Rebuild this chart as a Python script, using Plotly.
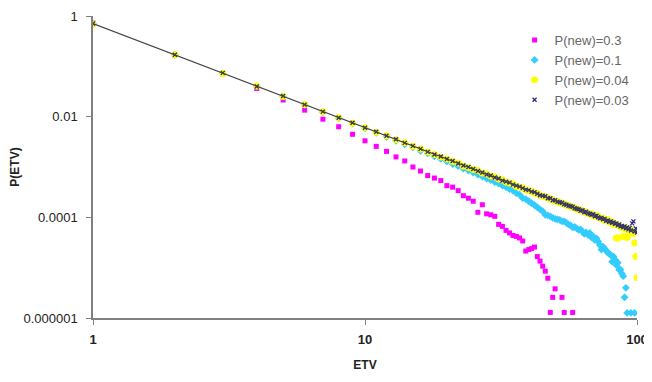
import plotly.graph_objects as go

ETV = list(range(1, 101))

# log10 P(ETV) (None = no point shown)
LOGP_03 = [
    -0.14, -0.78, -1.15, -1.44, -1.67, -1.87, -2.05, -2.20, -2.35, -2.48,
    -2.59, -2.69, -2.80, -2.88, -3.00, -3.08, -3.17, -3.22, -3.27, -3.37,
    -3.40, -3.47, -3.57, -3.62, -3.68, -3.90, -3.75, -3.93, -3.95, -3.98,
    -4.14, -4.18, -4.26, -4.31, -4.36, -4.38, -4.41, -4.47, -4.67, -4.64,
    -4.62, -4.59, -4.78, -4.87, -4.97, -5.07, -5.21, -5.89, -5.59, -5.42,
    None, None, -5.59, -5.89, None, None, None, -5.89, None, None,
] + [None] * 40

LOGP_01 = [
    -0.15, -0.77, -1.14, -1.40, -1.60, -1.77, -1.91, -2.03, -2.14, -2.23,
    -2.32, -2.40, -2.48, -2.55, -2.61, -2.68, -2.73, -2.79, -2.84, -2.89,
    -2.94, -2.98, -3.03, -3.07, -3.11, -3.15, -3.19, -3.23, -3.26, -3.30,
    -3.33, -3.37, -3.40, -3.44, -3.47, -3.52, -3.55, -3.62, -3.64, -3.68,
    -3.72, -3.76, -3.80, -3.84, -3.88, -3.95, -3.96, -3.98, -4.01, -4.03,
    -4.04, -4.05, -4.08, -4.08, -4.11, -4.14, -4.16, -4.20, -4.19, -4.22,
    -4.25, -4.24, -4.28, -4.33, -4.30, -4.35, -4.31, -4.40, -4.38, -4.45,
    -4.42, -4.48, -4.55, -4.64, -4.58, -4.62, -4.66, -4.70, -4.72, -4.75,
    -4.88, -4.78, -4.84, -4.95, -4.90, -5.04, -5.04, -5.12, -5.17, -5.59,
    -5.40, -5.90, None, None, -5.90, None, None, -5.90, None, None,
]

LOGP_004 = [
    -0.16, -0.77, -1.14, -1.39, -1.60, -1.76, -1.90, -2.02, -2.13, -2.22,
    -2.31, -2.38, -2.46, -2.52, -2.59, -2.64, -2.70, -2.75, -2.80, -2.84,
    -2.89, -2.92, -2.98, -3.01, -3.05, -3.07, -3.12, -3.14, -3.18, -3.20,
    -3.24, -3.26, -3.30, -3.32, -3.34, -3.38, -3.40, -3.41, -3.45, -3.47,
    -3.48, -3.52, -3.52, -3.56, -3.58, -3.59, -3.61, -3.64, -3.65, -3.68,
    -3.68, -3.71, -3.72, -3.73, -3.76, -3.76, -3.79, -3.80, -3.81, -3.84,
    -3.85, -3.85, -3.88, -3.88, -3.91, -3.92, -3.94, -3.93, -3.97, -3.96,
    -3.99, -3.98, -4.01, -4.03, -4.02, -4.06, -4.05, -4.05, -4.09, -4.10,
    -4.09, -4.14, -4.13, -4.41, -4.41, -4.16, -4.19, -4.20, -4.38, -4.20,
    -4.23, -4.40, -4.25, -4.27, -4.24, -4.30, -4.32, -4.51, -4.78, -5.20,
]

LOGP_003 = [
    -0.15, -0.77, -1.13, -1.40, -1.59, -1.76, -1.90, -2.02, -2.12, -2.22,
    -2.30, -2.38, -2.45, -2.52, -2.58, -2.64, -2.70, -2.75, -2.79, -2.84,
    -2.88, -2.93, -2.97, -3.00, -3.04, -3.08, -3.11, -3.15, -3.17, -3.21,
    -3.23, -3.27, -3.29, -3.31, -3.35, -3.37, -3.39, -3.42, -3.45, -3.46,
    -3.49, -3.50, -3.53, -3.56, -3.57, -3.58, -3.62, -3.62, -3.66, -3.66,
    -3.69, -3.70, -3.71, -3.74, -3.75, -3.77, -3.78, -3.79, -3.82, -3.83,
    -3.84, -3.87, -3.86, -3.90, -3.89, -3.92, -3.93, -3.95, -3.94, -3.98,
    -3.97, -4.00, -4.02, -4.01, -4.04, -4.03, -4.07, -4.06, -4.09, -4.08,
    -4.11, -4.10, -4.13, -4.12, -4.16, -4.14, -4.18, -4.17, -4.20, -4.18,
    -4.22, -4.20, -4.24, -4.21, -4.26, -4.12, -4.08, -4.28, -4.22, -4.30,
]

# power-law trend line P = A * ETV^B
TREND_A = 0.71
TREND_B = -2.07
TREND_X = [1, 100]

SERIES = ["P(new)=0.3", "P(new)=0.1", "P(new)=0.04", "P(new)=0.03"]
Y_TICKS = [1, 0.01, 0.0001, 0.000001]
Y_TICK_TEXT = ["1", "0.01", "0.0001", "0.000001"]
X_TICKS = [1, 10, 100]
X_TICK_TEXT = ["<b>1</b>", "<b>10</b>", "<b>100</b>"]


def to_p(logs):
    return [None if v is None else 10 ** v for v in logs]


fig = go.Figure()

styles = [
    (LOGP_03, dict(symbol="square", color="#ff00ff", size=5)),
    (LOGP_01, dict(symbol="diamond", color="#33ccff", size=6)),
    (LOGP_004, dict(symbol="circle", color="#ffff00", size=7)),
    (LOGP_003, dict(symbol="x-thin-open", color="#2b2b86", size=4,
                    line=dict(color="#2b2b86", width=1.3))),
]
for name, (logs, mk) in zip(SERIES, styles):
    fig.add_trace(go.Scatter(x=ETV, y=to_p(logs), mode="markers", name=name,
                             marker=mk))

fig.add_trace(go.Scatter(x=TREND_X, y=[TREND_A * x ** TREND_B for x in TREND_X],
                         mode="lines", line=dict(color="#444444", width=1.2),
                         showlegend=False, hoverinfo="skip"))

# the page body adds an 8px offset; the figure overflows the window on the right/bottom
fig.update_layout(
    width=644, height=374,
    margin=dict(l=85, r=15, t=8, b=64),
    paper_bgcolor="white", plot_bgcolor="white",
    font=dict(family="Liberation Sans, Arial, sans-serif", size=13, color="#222222"),
    legend=dict(x=0.775, y=0.97, xanchor="left", yanchor="top",
                font=dict(size=13, color="#666666"), bgcolor="rgba(0,0,0,0)",
                itemwidth=30, tracegroupgap=0),
)
fig.update_xaxes(type="log", range=[0, 2], tickvals=X_TICKS, ticktext=X_TICK_TEXT,
                 showgrid=False, zeroline=False, showline=True, linecolor="#808080",
                 linewidth=1.5, ticks="outside", ticklen=5, tickcolor="#808080",
                 tickfont=dict(size=13), automargin=False, ticklabelstandoff=4,
                 title=dict(text="<b>ETV</b>", font=dict(size=12), standoff=14))
fig.update_yaxes(type="log", range=[-6, 0], tickvals=Y_TICKS, ticktext=Y_TICK_TEXT,
                 showgrid=False, zeroline=False, showline=True, linecolor="#808080",
                 linewidth=1.5, ticks="outside", ticklen=5, tickcolor="#808080",
                 tickfont=dict(size=13), automargin=False, ticklabelstandoff=6,
                 title=dict(text="<b>P(ETV)</b>", font=dict(size=12), standoff=6))

fig.write_html("out.html")
